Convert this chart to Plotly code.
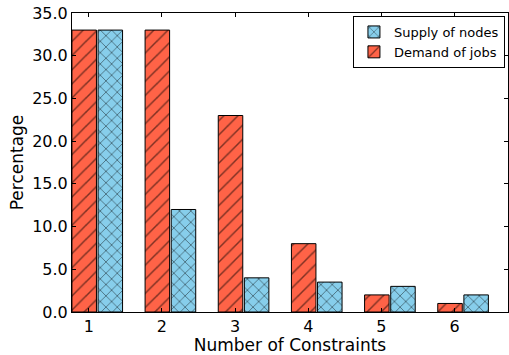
import plotly.graph_objects as go

# Share of nodes / jobs by number of constraints
constraints = [1, 2, 3, 4, 5, 6]
demand_of_jobs = [33, 33, 23, 8, 2, 1]
supply_of_nodes = [33, 12, 4, 3.5, 3, 2]
y_ticks = [0, 5, 10, 15, 20, 25, 30, 35]
y_tick_labels = ["0.0", "5.0", "10.0", "15.0", "20.0", "25.0", "30.0", "35.0"]

FONT = "DejaVu Sans"
BAR_W = 0.335

fig = go.Figure()
fig.add_trace(go.Bar(
    x=constraints, y=demand_of_jobs, name="Demand of jobs",
    width=BAR_W, offset=-0.23, legendrank=2,
    marker=dict(color="#FF6347", line=dict(color="black", width=1),
                pattern=dict(shape="/", fgcolor="black", size=10, solidity=0.15)),
))
fig.add_trace(go.Bar(
    x=constraints, y=supply_of_nodes, name="Supply of nodes",
    width=BAR_W, offset=0.127, legendrank=1,
    marker=dict(color="#87CEEB", line=dict(color="black", width=1),
                pattern=dict(shape="x", fgcolor="black", size=8, solidity=0.2)),
))

axis_common = dict(
    showline=True, linecolor="black", linewidth=1, mirror="ticks",
    ticks="inside", ticklen=4, tickcolor="black", showgrid=False, zeroline=False,
    tickfont=dict(family=FONT, size=16, color="black"),
)

fig.update_layout(
    width=509, height=355,
    margin=dict(l=72, r=1, t=13, b=43),
    plot_bgcolor="white", paper_bgcolor="white",
    barmode="overlay", showlegend=True,
    font=dict(family=FONT, color="black"),
    xaxis=dict(range=[0.771, 6.73], tickvals=constraints, ticktext=[str(c) for c in constraints],
               title=dict(text="Number of Constraints", font=dict(family=FONT, size=17), standoff=2),
               **axis_common),
    yaxis=dict(range=[0, 35], tickvals=y_ticks, ticktext=y_tick_labels,
               title=dict(text="Percentage", font=dict(family=FONT, size=17), standoff=4),
               **axis_common),
    legend=dict(x=0.993, y=0.99, xanchor="right", yanchor="top",
                bgcolor="white", bordercolor="black", borderwidth=1,
                font=dict(family=FONT, size=13), tracegroupgap=0),
)

fig.write_html("out.html")
